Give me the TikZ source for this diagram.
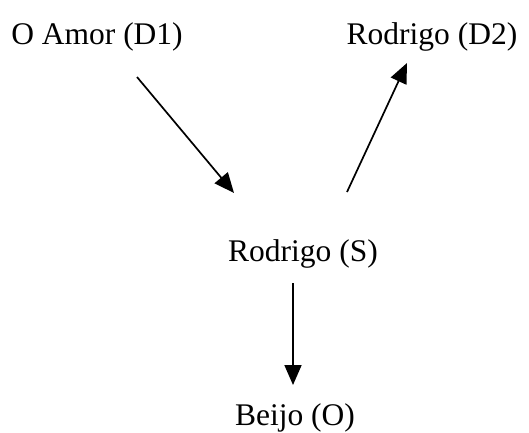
\documentclass[tikz,border=0pt]{standalone}
\usepackage{fontspec}
\setmainfont{Liberation Serif}
\usetikzlibrary{arrows.meta}
\begin{document}
\begin{tikzpicture}[x=1pt,y=-1pt,
  lbl/.style={anchor=base,inner sep=0pt,font=\fontsize{31.5}{37}\selectfont},
  arr/.style={line width=1.7pt,-{Triangle[length=20pt,width=17pt]}}]
\useasboundingbox (0,0) rectangle (529,432);
\node[lbl] (d1) at (97,44) {O Amor (D1)};
\node[lbl] (d2) at (432,44) {Rodrigo (D2)};
\node[lbl] (s) at (303,261) {Rodrigo (S)};
\node[lbl] (o) at (295,425) {Beijo (O)};
\coordinate (a1s) at (137,77);
\coordinate (a1e) at (234,193);
\coordinate (a2s) at (347,192);
\coordinate (a2e) at (407,63);
\coordinate (a3s) at (293,283);
\coordinate (a3e) at (293,385);
\draw[arr] (a1s) -- (a1e);
\draw[arr] (a2s) -- (a2e);
\draw[arr] (a3s) -- (a3e);
\end{tikzpicture}
\end{document}
